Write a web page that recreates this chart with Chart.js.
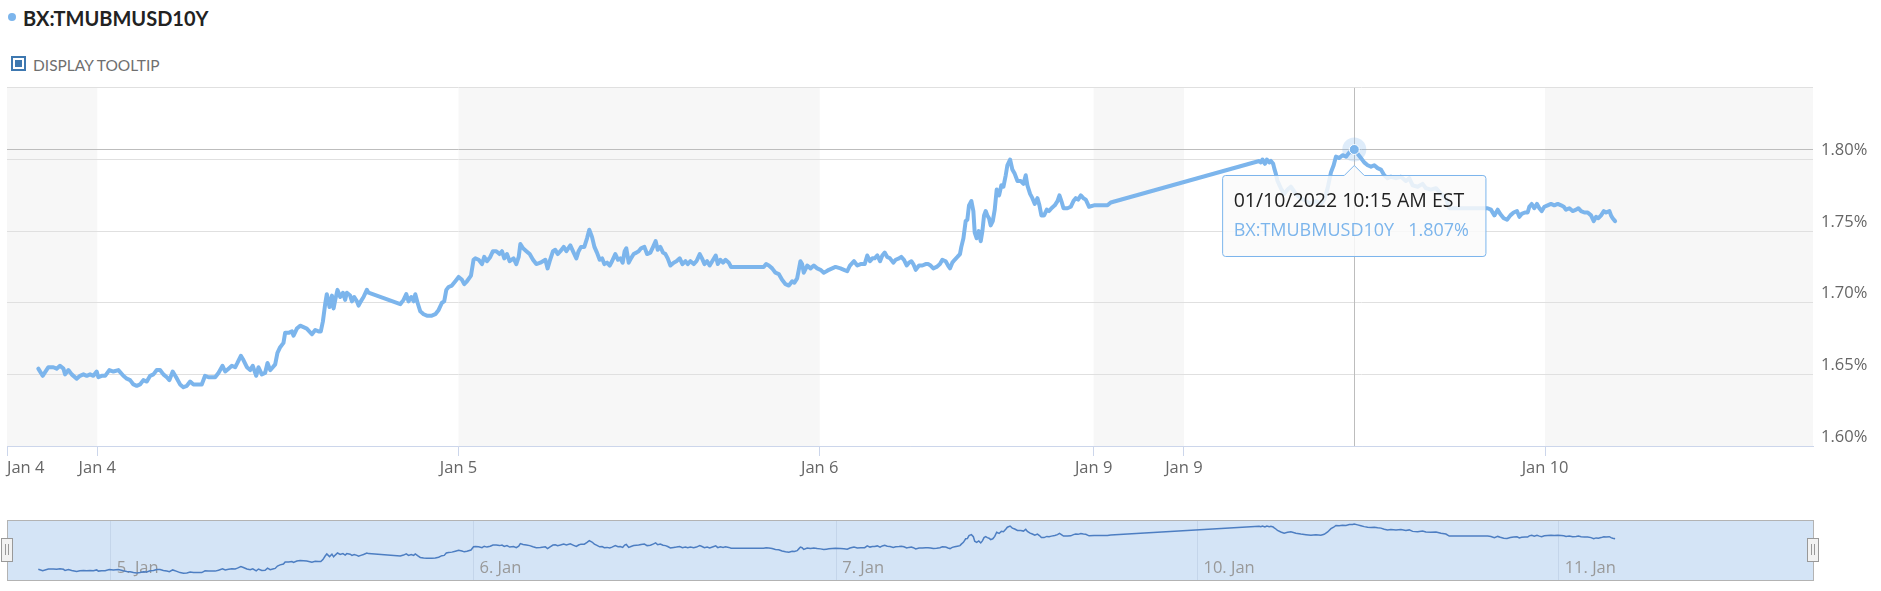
<!DOCTYPE html>
<html>
<head>
<meta charset="utf-8">
<title>BX:TMUBMUSD10Y</title>
<script src="https://cdn.jsdelivr.net/npm/chart.js@4.4.1/dist/chart.umd.min.js"></script>
<style>
html,body{margin:0;padding:0;background:#fff;width:1881px;height:591px;overflow:hidden}
.dot{position:absolute;left:8px;top:13px;width:8px;height:8px;border-radius:50%;background:#7cb5ec}
.name{position:absolute;left:23px;top:8px;font:bold 20px/20px Lato,sans-serif;color:#222}
.check{position:absolute;left:11px;top:56px;width:7px;height:7px;border:2px solid #3e78b0;padding:2px;background:#fff}
.check span{display:block;width:7px;height:7px;background:#3e78b0}
.toggle{position:absolute;left:33px;top:58px;font:15.5px/15px Lato,sans-serif;color:#6f6f6f}
#main{position:absolute;left:0;top:70px;width:1881px;height:420px}
#nav{position:absolute;left:0;top:515px;width:1881px;height:76px}
</style>
</head>
<body>
<div class="dot"></div><div class="name">BX:TMUBMUSD10Y</div>
<div class="check"><span></span></div><div class="toggle">DISPLAY TOOLTIP</div>
<div id="main"><canvas id="mainChart"></canvas></div>
<div id="nav"><canvas id="navChart"></canvas></div>
<script>
// time axis is in trading hours from the left edge of the view
const seriesName='BX:TMUBMUSD10Y';
const tickHours=[0,6,30,54,72.2,78.2,102.2,120];
const tickLabels=['Jan 4','Jan 4','Jan 5','Jan 6','Jan 9','Jan 9','Jan 10',''];
const yTicks=[1.60,1.65,1.70,1.75,1.80,1.85];
const yTickLabels=['1.60%','1.65%','1.70%','1.75%','1.80%',''];
const navTickHours=[6.9,31,55.1,79.1,103.1];
const navTickLabels=['5. Jan','6. Jan','7. Jan','10. Jan','11. Jan'];
const hoverHour=89.52;
const hoverLabel='01/10/2022 10:15 AM EST';

const session1=[[2.08,1.654],[2.37,1.649],[2.75,1.655],[3.08,1.655],[3.30,1.654],[3.52,1.656],[3.75,1.654],[3.86,1.650],[4.08,1.653],[4.30,1.650],[4.63,1.647],[4.85,1.649],[5.08,1.650],[5.30,1.649],[5.52,1.650],[5.74,1.649],[5.96,1.652],[6.07,1.648],[6.29,1.649],[6.52,1.649],[6.80,1.653],[7.07,1.652],[7.40,1.653],[7.73,1.649],[7.96,1.647],[8.18,1.646],[8.40,1.643],[8.62,1.642],[8.84,1.643],[9.06,1.646],[9.29,1.645],[9.51,1.649],[9.73,1.650],[9.95,1.653],[10.17,1.653],[10.39,1.650],[10.62,1.648],[10.79,1.646],[11.01,1.652],[11.24,1.648],[11.50,1.643],[11.72,1.641],[11.95,1.642],[12.17,1.645],[12.39,1.643],[12.61,1.643],[12.94,1.643],[13.16,1.649],[13.39,1.648],[13.61,1.648],[13.83,1.648],[14.05,1.651],[14.32,1.656],[14.50,1.652],[14.72,1.654],[14.94,1.656],[15.16,1.655],[15.31,1.658],[15.54,1.663],[15.71,1.660],[15.94,1.655],[16.16,1.653],[16.33,1.656],[16.56,1.649],[16.71,1.655],[16.93,1.650],[17.15,1.651],[17.31,1.658],[17.49,1.653],[17.66,1.655],[17.82,1.657],[17.97,1.665],[18.15,1.669],[18.37,1.672],[18.48,1.679],[18.71,1.679],[18.93,1.680],[19.04,1.677],[19.26,1.682],[19.48,1.684]];
const session2=[[19.70,1.683],[19.92,1.682],[20.26,1.678],[20.48,1.681],[20.70,1.680],[20.85,1.680],[20.99,1.687],[21.14,1.699],[21.25,1.706],[21.43,1.697],[21.59,1.705],[21.70,1.696],[21.81,1.702],[21.96,1.709],[22.14,1.704],[22.32,1.707],[22.47,1.702],[22.58,1.707],[22.80,1.705],[22.92,1.701],[23.07,1.704],[23.25,1.701],[23.36,1.698],[23.51,1.701],[23.69,1.704],[23.91,1.709],[24.02,1.707],[26.13,1.699],[26.35,1.702],[26.53,1.706],[26.68,1.701],[26.86,1.704],[27.02,1.701],[27.13,1.706],[27.28,1.700],[27.46,1.694],[27.68,1.692],[27.90,1.691],[28.23,1.691],[28.46,1.692],[28.68,1.695],[28.90,1.700],[29.05,1.701],[29.19,1.709],[29.34,1.711],[29.56,1.712],[29.79,1.715],[30.01,1.718],[30.23,1.716],[30.38,1.713],[30.56,1.715],[30.83,1.719],[31.00,1.730],[31.12,1.731],[31.34,1.730],[31.56,1.727],[31.71,1.732],[31.89,1.729],[32.11,1.732],[32.29,1.736],[32.51,1.736],[32.73,1.734],[32.89,1.736],[33.04,1.731],[33.22,1.734],[33.40,1.729],[33.66,1.731],[33.84,1.727],[34.00,1.732],[34.11,1.741],[34.29,1.738],[34.51,1.736],[34.73,1.734],[34.95,1.730],[35.17,1.727],[35.44,1.728],[35.77,1.730],[35.92,1.724],[36.06,1.729],[36.28,1.736],[36.43,1.737],[36.59,1.734],[36.77,1.736],[36.99,1.739],[37.17,1.736],[37.43,1.740]];
const session3=[[37.65,1.735],[37.83,1.731],[37.98,1.736],[38.14,1.739],[38.36,1.739],[38.54,1.745],[38.69,1.751],[38.87,1.746],[39.03,1.739],[39.20,1.735],[39.38,1.730],[39.54,1.731],[39.69,1.727],[39.87,1.728],[40.05,1.726],[40.20,1.729],[40.42,1.734],[40.60,1.730],[40.75,1.731],[40.91,1.728],[41.04,1.736],[41.15,1.738],[41.31,1.728],[41.46,1.731],[41.64,1.734],[41.82,1.735],[41.97,1.736],[42.13,1.738],[42.35,1.739],[42.53,1.734],[42.75,1.735],[42.93,1.739],[43.10,1.743],[43.24,1.737],[43.41,1.739],[43.59,1.735],[43.75,1.734],[43.90,1.731],[44.08,1.726],[44.30,1.728],[44.48,1.729],[44.70,1.731],[44.88,1.727],[45.08,1.729],[45.23,1.727],[45.41,1.729],[45.63,1.727],[45.81,1.729],[46.03,1.734],[46.18,1.731],[46.34,1.727],[46.52,1.729],[46.69,1.726],[46.92,1.730],[47.09,1.733],[47.23,1.727],[47.40,1.730],[47.58,1.728],[47.74,1.730],[47.96,1.728],[48.11,1.725],[48.51,1.725],[50.28,1.725],[50.44,1.727],[50.62,1.726],[50.84,1.724],[51.06,1.721],[51.28,1.720],[51.50,1.716],[51.73,1.713],[51.95,1.712],[52.17,1.715],[52.32,1.714],[52.50,1.717],[52.61,1.723],[52.72,1.729],[52.83,1.727],[52.94,1.721],[53.17,1.726],[53.39,1.724],[53.61,1.726],[53.83,1.724],[54.05,1.723],[54.27,1.721],[54.45,1.722],[54.61,1.723],[54.83,1.724],[55.05,1.725],[55.38,1.724]];
const session4=[[55.61,1.723],[55.83,1.722],[56.01,1.726],[56.28,1.729],[56.50,1.726],[56.72,1.727],[56.99,1.727],[57.16,1.733],[57.34,1.729],[57.50,1.731],[57.65,1.731],[57.83,1.733],[58.01,1.729],[58.16,1.733],[58.32,1.735],[58.49,1.732],[58.67,1.731],[58.89,1.728],[59.05,1.730],[59.27,1.731],[59.42,1.732],[59.60,1.730],[59.78,1.726],[59.93,1.728],[60.09,1.729],[60.22,1.727],[60.38,1.723],[60.60,1.726],[60.82,1.726],[61.04,1.727],[61.20,1.727],[61.37,1.726],[61.55,1.724],[61.77,1.725],[61.99,1.727],[62.15,1.730],[62.37,1.729],[62.53,1.726],[62.66,1.724],[62.81,1.728],[62.97,1.730],[63.15,1.732],[63.32,1.734],[63.41,1.739],[63.55,1.745],[63.70,1.757],[63.81,1.758],[63.92,1.768],[64.08,1.771],[64.21,1.764],[64.30,1.749],[64.43,1.745],[64.57,1.750],[64.70,1.743],[64.81,1.750],[64.92,1.761],[65.03,1.764],[65.14,1.761],[65.25,1.759],[65.36,1.754],[65.50,1.757],[65.63,1.765],[65.76,1.779],[65.92,1.775],[66.07,1.782],[66.21,1.781],[66.36,1.789],[66.47,1.796],[66.65,1.800],[66.80,1.793],[66.96,1.790],[67.14,1.785],[67.36,1.785],[67.54,1.783],[67.69,1.789],[67.80,1.782],[67.98,1.776],[68.13,1.773],[68.29,1.769],[68.47,1.773],[68.60,1.768],[68.73,1.761],[68.91,1.761],[69.09,1.765],[69.24,1.764],[69.40,1.766],[69.62,1.768],[69.80,1.771],[69.93,1.775],[70.06,1.771],[70.20,1.766],[70.46,1.766],[70.68,1.767],[70.86,1.771],[71.01,1.773],[71.17,1.772],[71.35,1.775],[71.52,1.773],[71.68,1.772],[71.90,1.767],[72.23,1.768],[72.68,1.768],[73.12,1.768],[73.34,1.770]];
const session5=[[83.20,1.799],[83.31,1.798],[83.42,1.800],[83.58,1.797],[83.71,1.800],[83.87,1.798],[83.98,1.799],[84.13,1.797],[84.20,1.794],[84.31,1.790],[84.42,1.785],[84.64,1.780],[84.86,1.776],[85.09,1.779],[85.31,1.781],[85.64,1.776],[85.97,1.773],[86.31,1.771],[86.64,1.769],[86.97,1.771],[87.30,1.769],[87.52,1.772],[87.75,1.780],[87.97,1.791],[88.15,1.796],[88.30,1.802],[88.52,1.801],[88.74,1.803],[88.97,1.802],[89.19,1.805],[89.41,1.805],[89.52,1.807],[89.74,1.804],[89.96,1.801],[90.18,1.798],[90.41,1.796],[90.63,1.795],[90.85,1.796],[91.07,1.794],[91.29,1.793]];
const session6=[[91.51,1.789],[91.73,1.787],[91.95,1.788],[92.29,1.787],[92.62,1.788],[92.95,1.785],[93.17,1.787],[93.40,1.782],[93.73,1.781],[94.06,1.783],[94.28,1.780],[94.61,1.779],[94.95,1.780],[95.28,1.776],[95.61,1.773],[95.83,1.766],[96.17,1.766],[98.38,1.766],[98.60,1.765],[98.83,1.761],[99.05,1.765],[99.22,1.762],[99.45,1.759],[99.67,1.758],[99.89,1.761],[100.11,1.763],[100.33,1.764],[100.49,1.760],[100.64,1.762],[100.86,1.763],[101.04,1.763],[101.15,1.767],[101.31,1.769],[101.48,1.766],[101.66,1.769],[101.82,1.766],[101.97,1.764],[102.15,1.767],[102.37,1.768],[102.59,1.769],[102.81,1.768],[103.04,1.769],[103.26,1.768],[103.44,1.767],[103.59,1.765],[103.81,1.766],[104.03,1.764],[104.26,1.765],[104.41,1.766],[104.59,1.764],[104.81,1.763],[105.03,1.763],[105.25,1.761],[105.43,1.757],[105.59,1.760],[105.74,1.759],[105.92,1.761],[106.10,1.764],[106.25,1.763],[106.47,1.764],[106.58,1.761],[106.69,1.759],[106.85,1.757]];

const points=[...session1,...session2,...session3,...session4,...session5,...session6].map(([x,y])=>({x,y}));
const hoverIndex=points.findIndex(p=>p.x===hoverHour);

Chart.defaults.font.family='"Open Sans", sans-serif';
Chart.defaults.color='#666';

const bands={id:'bands',beforeDraw(chart){
  const {ctx,chartArea:a,scales:{x}}=chart;
  ctx.save();ctx.fillStyle='#f7f7f7';
  for(let i=0;i<tickHours.length-1;i+=2){
    const l=x.getPixelForValue(tickHours[i]),r=x.getPixelForValue(tickHours[i+1]);
    ctx.fillRect(l,a.top,r-l,a.bottom-a.top);
  }
  ctx.restore();
}};

const crosshair={id:'crosshair',
  beforeDatasetsDraw(chart){
    const {ctx,chartArea:a}=chart;
    const el=chart.getDatasetMeta(0).data[hoverIndex];
    const px=Math.round(el.x)+.5,py=Math.round(el.y)+.5;
    ctx.save();ctx.strokeStyle='#bdbdbd';ctx.lineWidth=1;ctx.beginPath();
    ctx.moveTo(px,a.top);ctx.lineTo(px,a.bottom);
    ctx.moveTo(a.left,py);ctx.lineTo(a.right,py);
    ctx.stroke();ctx.restore();
  },
  afterDatasetsDraw(chart){
    const {ctx}=chart;
    const el=chart.getDatasetMeta(0).data[hoverIndex];
    ctx.save();
    ctx.fillStyle='rgba(124,181,236,0.25)';
    ctx.beginPath();ctx.arc(el.x,el.y,12,0,Math.PI*2);ctx.fill();
    ctx.fillStyle='#7cb5ec';ctx.strokeStyle='#fff';ctx.lineWidth=1;
    ctx.beginPath();ctx.arc(el.x,el.y,5,0,Math.PI*2);ctx.fill();ctx.stroke();
    ctx.restore();
  }
};

const main=new Chart(document.getElementById('mainChart'),{
  type:'line',
  data:{datasets:[{label:seriesName,data:points,borderColor:'#7cb5ec',borderWidth:4,pointRadius:0,tension:0,borderJoinStyle:'round',borderCapStyle:'round'}]},
  options:{
    responsive:true,maintainAspectRatio:false,animation:false,events:[],
    layout:{padding:{left:7,top:15,right:0,bottom:0}},
    scales:{
      x:{type:'linear',min:0,max:120,
        afterBuildTicks:s=>{s.ticks=tickHours.map(v=>({value:v}));},
        afterFit:s=>{s.height=44;},
        grid:{drawOnChartArea:false,drawTicks:true,tickLength:10,color:'#ccd6eb',tickColor:c=>c.index===tickHours.length-1?'rgba(0,0,0,0)':'#ccd6eb'},
        border:{color:'#ccd6eb'},
        ticks:{autoSkip:false,maxRotation:0,align:'inner',padding:2,color:'#666',font:{size:16.5},callback:(v,i)=>tickLabels[i]}
      },
      y:{position:'right',min:1.6,max:1.85,
        afterBuildTicks:s=>{s.ticks=yTicks.map(v=>({value:v}));},
        afterFit:s=>{s.width=68;},
        grid:{color:'#e0e0e0',drawTicks:false},
        border:{display:false},
        ticks:{padding:8,labelOffset:-9,color:'#666',font:{size:16.5},callback:(v,i)=>yTickLabels[i]}
      }
    },
    plugins:{
      legend:{display:false},
      tooltip:{enabled:true,animation:false,position:'average',xAlign:'center',yAlign:'top',
        backgroundColor:'rgba(250,250,250,0.85)',borderColor:'#7cb5ec',borderWidth:1,cornerRadius:3,
        caretSize:10,caretPadding:16,padding:{top:14,bottom:15,left:11,right:17},
        titleFont:{size:19.5,weight:'normal'},titleColor:'#222',titleMarginBottom:7,
        bodyFont:{size:18},bodyColor:'#7cb5ec',displayColors:false,
        callbacks:{title:()=>hoverLabel,label:c=>seriesName+'   '+c.parsed.y.toFixed(3)+'%'}
      }
    }
  },
  plugins:[bands,crosshair]
});
const hovered=main.getDatasetMeta(0).data[hoverIndex];
main.tooltip.setActiveElements([{datasetIndex:0,index:hoverIndex}],{x:hovered.x,y:hovered.y});
main.update('none');

const navFrame={id:'navFrame',
  beforeDraw(chart){
    const {ctx,chartArea:a}=chart;
    ctx.save();ctx.fillStyle='#d4e4f6';ctx.fillRect(a.left,a.top,a.right-a.left,a.bottom-a.top);ctx.restore();
  },
  afterDraw(chart){
    const {ctx,chartArea:a}=chart;
    ctx.save();ctx.strokeStyle='#b3b3b3';ctx.lineWidth=1;
    ctx.strokeRect(Math.round(a.left)+.5,Math.round(a.top)-.5,Math.round(a.right-a.left),Math.round(a.bottom-a.top)+1);
    [a.left,a.right].forEach(hx=>{
      const cx=Math.round(hx),top=a.top+17;
      ctx.fillStyle='#f2f2f2';ctx.strokeStyle='#999';
      ctx.fillRect(cx-5.5,top,11,23);ctx.strokeRect(cx-5.5,top+.5,11,23);
      ctx.beginPath();ctx.moveTo(cx-1.5,top+6);ctx.lineTo(cx-1.5,top+17);ctx.moveTo(cx+1.5,top+6);ctx.lineTo(cx+1.5,top+17);ctx.stroke();
    });
    ctx.restore();
  }
};

new Chart(document.getElementById('navChart'),{
  type:'line',
  data:{datasets:[{data:points,borderColor:'#4d7ec2',borderWidth:1.5,pointRadius:0,tension:0}]},
  options:{
    responsive:true,maintainAspectRatio:false,animation:false,events:[],
    layout:{padding:{left:7,top:6,right:68,bottom:0}},
    scales:{
      x:{type:'linear',min:0,max:120,
        afterBuildTicks:s=>{s.ticks=navTickHours.map(v=>({value:v}));},
        afterFit:s=>{s.height=11;},
        grid:{color:'#c4d5ea',drawTicks:false},
        border:{display:false},
        ticks:{autoSkip:false,maxRotation:0,align:'start',mirror:true,labelOffset:6,padding:2,color:'#999',font:{size:16.5},callback:(v,i)=>navTickLabels[i]}
      },
      y:{display:false,min:1.618,max:1.817}
    },
    plugins:{legend:{display:false},tooltip:{enabled:false}}
  },
  plugins:[navFrame]
});
</script>
</body>
</html>
